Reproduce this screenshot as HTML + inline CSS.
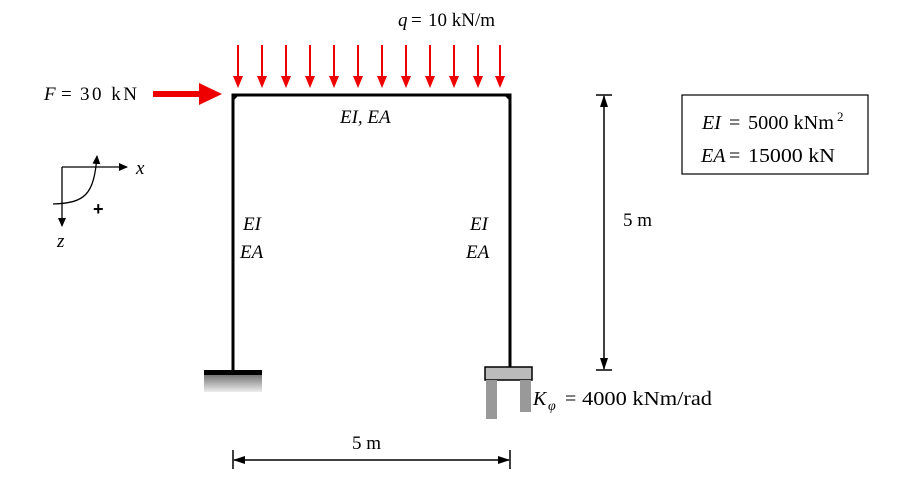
<!DOCTYPE html>
<html><head><meta charset="utf-8"><style>
body{margin:0;background:#fff;width:898px;height:480px;overflow:hidden}
svg text{font-family:"Liberation Serif",serif;fill:#000}
</style></head><body>
<svg width="898" height="480" viewBox="0 0 898 480">
<defs>
<linearGradient id="g" x1="0" y1="0" x2="0" y2="1"><stop offset="0" stop-color="#777"/><stop offset="1" stop-color="#eee"/></linearGradient>
<marker id="ah" markerWidth="12" markerHeight="10" refX="11" refY="5" orient="auto-start-reverse" markerUnits="userSpaceOnUse"><path d="M0,1 L12,5 L0,9z" fill="#000"/></marker>
<marker id="ahc" markerWidth="9" markerHeight="8" refX="8" refY="4" orient="auto" markerUnits="userSpaceOnUse"><path d="M0,0 L9,4 L0,8z" fill="#000"/></marker>
</defs>
<g id="loads"></g>
<text y="26" font-size="19"><tspan x="398" font-style="italic">q</tspan><tspan x="411">=</tspan><tspan x="428">10 kN/m</tspan></text>
<text y="100" font-size="19"><tspan x="44" font-style="italic">F</tspan><tspan x="61">=</tspan><tspan x="80" textLength="57" lengthAdjust="spacing">30 kN</tspan></text>
<g><rect x="153" y="91" width="50" height="6" fill="#e00"/><path d="M199,83 L222,94 L199,105z" fill="#e00"/></g>
<g stroke="#000" stroke-width="3" fill="none">
<path d="M233,370 L233,95 L510,95 L510,367"/>
</g>
<path d="M233,94 l7,0 l-7,7z M510,94 l-7,0 l7,7z" fill="#000"/>
<text x="340" y="123" font-size="19" font-style="italic">EI, EA</text>
<text x="243" y="230" font-size="19" font-style="italic">EI</text>
<text x="240" y="258" font-size="19" font-style="italic">EA</text>
<text x="470" y="230" font-size="19" font-style="italic">EI</text>
<text x="466" y="258" font-size="19" font-style="italic">EA</text>
<g><rect x="204" y="370" width="58" height="5" fill="#000"/><rect x="204" y="375" width="58" height="17" fill="url(#g)"/></g>
<g><rect x="485" y="367" width="47" height="13" fill="#bbb" stroke="#000" stroke-width="1.5"/><rect x="486" y="380" width="11" height="39" fill="#999"/><rect x="520" y="380" width="11" height="32" fill="#999"/></g>
<text y="405" font-size="20"><tspan x="533" font-style="italic">K</tspan><tspan x="548" font-style="italic" font-size="14" dy="5">φ</tspan><tspan x="565" dy="-5">=</tspan><tspan x="582" textLength="130" lengthAdjust="spacingAndGlyphs">4000 kNm/rad</tspan></text>
<g stroke="#000" stroke-width="1.5"><line x1="233" y1="450" x2="233" y2="469"/><line x1="510" y1="450" x2="510" y2="469"/><line x1="234" y1="460" x2="509" y2="460" marker-start="url(#ah)" marker-end="url(#ah)"/></g>
<text x="352" y="449" font-size="19">5 m</text>
<g stroke="#000" stroke-width="1.5"><line x1="596" y1="95" x2="612" y2="95"/><line x1="596" y1="370" x2="612" y2="370"/><line x1="604" y1="96" x2="604" y2="369" marker-start="url(#ah)" marker-end="url(#ah)"/></g>
<text x="623" y="226" font-size="19">5 m</text>
<rect x="682" y="95" width="186" height="79" fill="none" stroke="#000" stroke-width="1.2"/>
<text y="129" font-size="20"><tspan x="702" font-style="italic">EI</tspan><tspan x="729">=</tspan><tspan x="748" textLength="86" lengthAdjust="spacingAndGlyphs">5000 kNm</tspan><tspan x="837" font-size="13" dy="-8">2</tspan></text>
<text y="162" font-size="20"><tspan x="701" font-style="italic">EA</tspan><tspan x="729">=</tspan><tspan x="748" textLength="87" lengthAdjust="spacingAndGlyphs">15000 kN</tspan></text>
<g stroke="#000" stroke-width="1.3" fill="none">
<line x1="62" y1="167" x2="127" y2="167" marker-end="url(#ahc)"/>
<line x1="62" y1="167" x2="62" y2="226" marker-end="url(#ahc)"/>
<path d="M53,204 C85,203 94,195 97,156" marker-end="url(#ahc)"/>
</g>
<text x="136" y="174" font-size="19" font-style="italic">x</text>
<text x="57" y="247" font-size="19" font-style="italic">z</text>
<text x="93" y="215" font-size="18" font-weight="bold" style="font-family:'Liberation Sans',sans-serif">+</text>
</svg>
<script>
const loadXs=[238,262,286,310,334,358,382,406,430,454,478,500];
const g=document.getElementById('loads');
loadXs.forEach(x=>{
  const l=document.createElementNS('http://www.w3.org/2000/svg','line');
  l.setAttribute('x1',x);l.setAttribute('x2',x);l.setAttribute('y1',45);l.setAttribute('y2',78);
  l.setAttribute('stroke','#e00');l.setAttribute('stroke-width','2');
  
  
  g.appendChild(l);
  const p=document.createElementNS('http://www.w3.org/2000/svg','path');
  p.setAttribute('d',`M${x-5},76 L${x},88 L${x+5},76z`);p.setAttribute('fill','#e00');
  
  
  g.appendChild(p);
});
</script>
</body></html>
